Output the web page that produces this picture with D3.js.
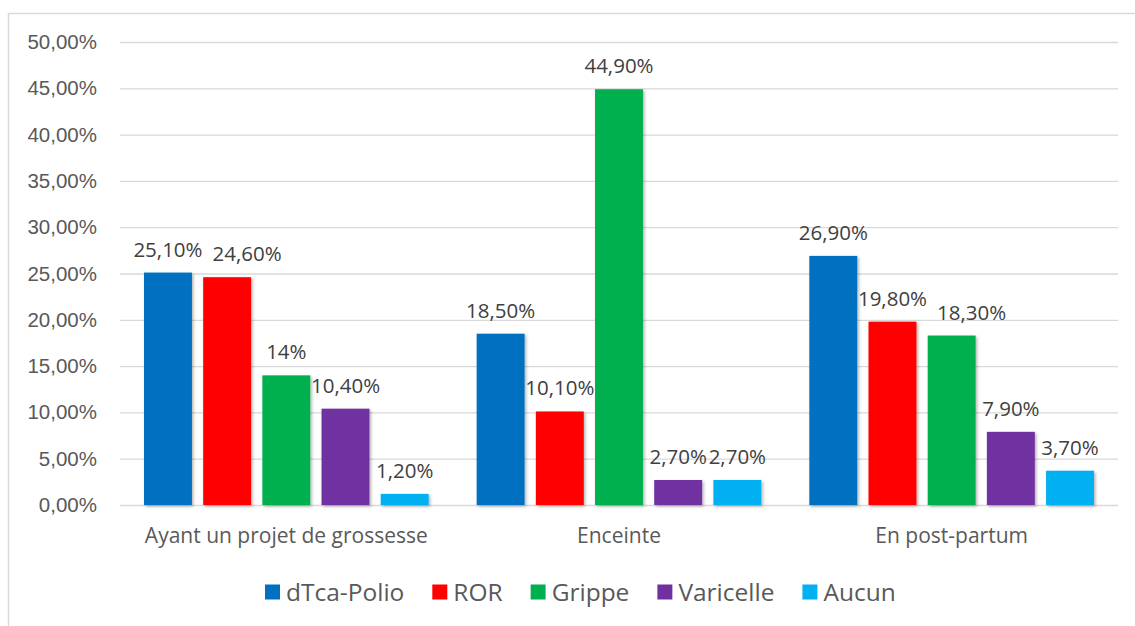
<!DOCTYPE html>
<html>
<head>
<meta charset="utf-8">
<script src="https://cdn.jsdelivr.net/npm/d3@7"></script>
<style>
  body { margin:0; background:#fff; }
  svg { display:block; font-family:"Open Sans", sans-serif; }
  .tick text { fill:#595959; }
</style>
</head>
<body>
<div id="chart"></div>
<script>
// data
const categories = ["Ayant un projet de grossesse", "Enceinte", "En post-partum"];
const seriesNames = ["dTca-Polio", "ROR", "Grippe", "Varicelle", "Aucun"];
const seriesColors = ["#0070C0", "#FF0000", "#00B050", "#7030A0", "#00B0F0"];
const values = [
  [25.1, 24.6, 14, 10.4, 1.2],
  [18.5, 10.1, 44.9, 2.7, 2.7],
  [26.9, 19.8, 18.3, 7.9, 3.7]
];
const valueLabels = [
  ["25,10%", "24,60%", "14%", "10,40%", "1,20%"],
  ["18,50%", "10,10%", "44,90%", "2,70%", "2,70%"],
  ["26,90%", "19,80%", "18,30%", "7,90%", "3,70%"]
];
const yTicks = [0, 5, 10, 15, 20, 25, 30, 35, 40, 45, 50];

function render(){
  let width = 1135,
      height = 626,
      margin = { top:42, right:17, left:120, bottom:121 },
      innerWidth = width - margin.left - margin.right,
      innerHeight = height - margin.top - margin.bottom;

  let svg = d3.select("#chart").append("svg").attr("width", width).attr("height", height)

  let defs = svg.append("defs")
  defs.append("filter").attr("id","shadow").attr("x","-20%").attr("y","-20%").attr("width","150%").attr("height","150%")
    .append("feDropShadow").attr("dx",1.5).attr("dy",1.5).attr("stdDeviation",1.5)
    .attr("flood-color","#000").attr("flood-opacity",0.3)

  // outer frame (clipped on right and bottom)
  svg.append("rect").attr("x",8.5).attr("y",13.5).attr("width",1200).attr("height",700)
    .attr("fill","none").attr("stroke","#d9d9d9").attr("stroke-width",1.5)

  let g = svg.append("g").attr("transform",`translate(${margin.left},${margin.top})`)

  let xScale = d3.scaleBand().domain(categories).range([0, innerWidth]).paddingInner(0).paddingOuter(0)
  let xInner = d3.scaleBand().domain(seriesNames).range([24, xScale.bandwidth() - 24]).paddingInner(0.19).paddingOuter(0)
  let yScale = d3.scaleLinear().domain([0, 50]).range([innerHeight, 0])

  let yAxis = d3.axisLeft(yScale).tickValues(yTicks).tickSize(-innerWidth).tickPadding(23)
    .tickFormat(d => d3.format(".2f")(d).replace(".", ",") + "%")
  let yGroup = g.append("g").call(yAxis)
  yGroup.select(".domain").remove()
  yGroup.selectAll(".tick line").attr("stroke","#d9d9d9").attr("stroke-width",1.3)
  yGroup.selectAll(".tick text").attr("font-size",20.5).attr("fill","#595959")

  let groups = g.selectAll(".cat").data(values).enter().append("g")
    .attr("transform",(d,i)=>`translate(${xScale(categories[i])},0)`)

  groups.selectAll("rect").data(d => d).enter().append("rect")
    .attr("x",(d,j)=>xInner(seriesNames[j]))
    .attr("y",d=>yScale(d))
    .attr("width",xInner.bandwidth())
    .attr("height",d=>innerHeight - yScale(d))
    .attr("fill",(d,j)=>seriesColors[j])
    .attr("filter","url(#shadow)")

  groups.each(function(row, i){
    let labels = d3.select(this).selectAll("text.val").data(row).enter().append("text")
      .attr("class","val")
      .attr("x",(d,j)=>xInner(seriesNames[j]) + xInner.bandwidth()/2)
      .attr("y",d=>yScale(d) - 16)
      .attr("text-anchor","middle")
      .attr("font-size",20.5)
      .attr("fill","#404040")
      .text((d,j)=>valueLabels[i][j])
    // nudge a label to the right when it really runs into the previous one
    let prev = null
    labels.each(function(){
      let b = this.getBBox()
      let y = +d3.select(this).attr("y")
      if (prev && b.x < prev.right - 1 && Math.abs(y - prev.y) < 14) {
        let shift = prev.right + 10 - b.x
        d3.select(this).attr("x", +d3.select(this).attr("x") + shift)
        b = this.getBBox()
      }
      prev = { right: b.x + b.width, y: y }
    })
  })

  g.selectAll(".catlabel").data(categories).enter().append("text")
    .attr("x",d=>xScale(d) + xScale.bandwidth()/2)
    .attr("y",innerHeight + 38)
    .attr("text-anchor","middle")
    .attr("font-size",21)
    .attr("fill","#595959")
    .text(d=>d)

  // legend
  let legend = svg.append("g").attr("transform","translate(0,592)")
  let lx = 265
  seriesNames.forEach((name,i)=>{
    legend.append("rect").attr("x",lx).attr("y",-7.5).attr("width",15).attr("height",15).attr("fill",seriesColors[i])
    let t = legend.append("text").attr("x",lx+21).attr("y",0).attr("dy","0.35em")
      .attr("font-size",24.5).attr("fill","#595959").text(name)
    lx += 21 + t.node().getComputedTextLength() + 28
  })
}

render()
</script>
</body>
</html>
